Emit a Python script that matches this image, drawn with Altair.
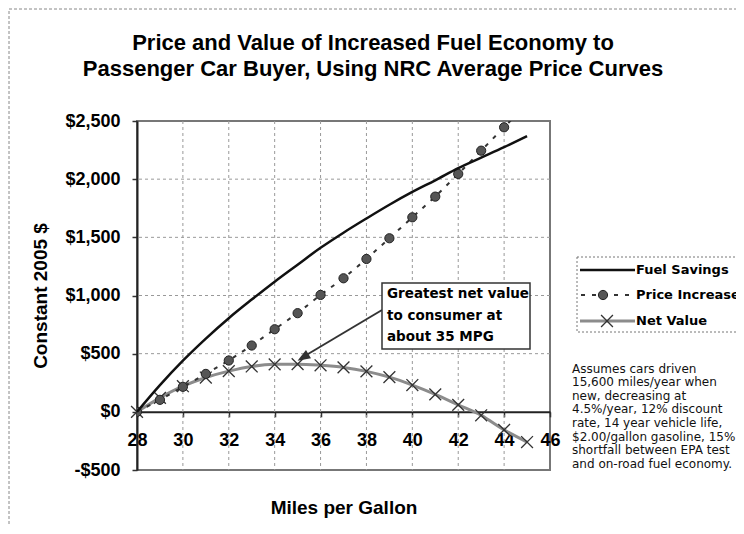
import altair as alt
import pandas as pd

# ---- data ----
mpg = list(range(28, 46))
fuel_savings = [0, 230, 440, 630, 805, 965, 1119, 1265, 1410, 1540, 1662, 1780, 1890, 1990, 2095, 2185, 2275, 2370]
price_increase = [0, 103, 215, 326, 441, 570, 710, 848, 1005, 1148, 1314, 1492, 1672, 1850, 2045, 2245, 2446, 2650]
net_value = [0, 120, 220, 295, 350, 390, 408, 410, 400, 382, 348, 298, 230, 150, 60, -30, -155, -260]

x_ticks = [28, 30, 32, 34, 36, 38, 40, 42, 44, 46]
y_ticks = [-500, 0, 500, 1000, 1500, 2000, 2500]
grid_x = [30, 32, 34, 36, 38, 40, 42, 44]
grid_y = [500, 1000, 1500, 2000]

series_names = ["Fuel Savings", "Price Increase", "Net Value"]

title_lines = ["Price and Value of Increased Fuel Economy to",
               "Passenger Car Buyer, Using NRC Average Price Curves"]
annot_lines = ["Greatest net value", "to consumer at", "about 35 MPG"]
note_lines = ["Assumes cars driven", "15,600 miles/year when", "new, decreasing at",
              "4.5%/year, 12% discount", "rate, 14 year vehicle life,",
              "$2.00/gallon gasoline, 15%", "shortfall between EPA test",
              "and on-road fuel economy."]

rows = []
for name, vals in zip(series_names, [fuel_savings, price_increase, net_value]):
    for m, v in zip(mpg, vals):
        rows.append({"series": name, "mpg": m, "value": v})
df = pd.DataFrame(rows)

AR = "Liberation Sans"
DJ = "DejaVu Sans"
W, H = 413, 349

xaxis = alt.Axis(values=x_ticks, format="d", grid=False, offset=-58.17,
                 labelFont=AR, labelFontSize=18, labelFontWeight="bold", labelColor="#000",
                 labelPadding=15, tickSize=5, tickColor="#333", tickWidth=1.5,
                 domainColor="#222", domainWidth=2, labelFlush=False,
                 title="Miles per Gallon", titleFont=AR, titleFontSize=19,
                 titleFontWeight="bold", titleColor="#000", titleBaseline="alphabetic",
                 titleY=101.6)
yaxis = alt.Axis(values=y_ticks, grid=False,
                 labelExpr="datum.value < 0 ? '-$' + format(-datum.value, ',') : '$' + format(datum.value, ',')",
                 labelFont=AR, labelFontSize=18, labelFontWeight="bold", labelColor="#000",
                 labelPadding=12, tickSize=5, tickColor="#333", tickWidth=1.5,
                 domainColor="#222", domainWidth=2,
                 title="Constant 2005 $", titleFont=AR, titleFontSize=19,
                 titleFontWeight="bold", titleColor="#000", titleBaseline="middle",
                 titleX=-97, titleY=174.5)

xs = alt.Scale(domain=[28, 46], nice=False, zero=False)
ys = alt.Scale(domain=[-500, 2500], nice=False, zero=False)
X = alt.X("mpg:Q", scale=xs, axis=xaxis)
Y = alt.Y("value:Q", scale=ys, axis=yaxis)

one = pd.DataFrame({"k": [0]})

# page frame (left and top edges visible)
frame = alt.Chart(one).mark_rect(fill="transparent", stroke="#888", strokeWidth=1,
                                 strokeDash=[3, 2]).encode(
    x=alt.value(-128), x2=alt.value(700), y=alt.value(-112), y2=alt.value(460))

vgrid = alt.Chart(pd.DataFrame({"mpg": grid_x})).mark_rule(
    color="#999", strokeWidth=1, strokeDash=[3, 3]).encode(x=X)
hgrid = alt.Chart(pd.DataFrame({"value": grid_y})).mark_rule(
    color="#999", strokeWidth=1, strokeDash=[3, 3]).encode(y=Y)

base = alt.Chart(df)
net_line = base.transform_filter(alt.datum.series == "Net Value").mark_line(
    color="#8c8c8c", strokeWidth=3, interpolate="monotone").encode(x=X, y=Y)
xpath = "M-1,-1L1,1M-1,1L1,-1"
net_pts = base.transform_filter(alt.datum.series == "Net Value").mark_point(
    shape=xpath, stroke="#333", strokeWidth=1.3, size=140, filled=False, opacity=1).encode(x=X, y=Y)
price_line = base.transform_filter(alt.datum.series == "Price Increase").mark_line(
    color="#333", strokeWidth=2, strokeDash=[4, 7], clip=True).encode(x=X, y=Y)
price_pts = base.transform_filter(alt.datum.series == "Price Increase").mark_point(
    filled=True, fill="#555", stroke="#222", strokeWidth=1, size=85, opacity=1, clip=True).encode(x=X, y=Y)
fuel_line = base.transform_filter(alt.datum.series == "Fuel Savings").mark_line(
    color="#111", strokeWidth=2.5, interpolate="monotone").encode(x=X, y=Y)

# annotation
ann_arrow = alt.Chart(one).mark_rule(color="#333", strokeWidth=2).encode(
    x=alt.value(245), x2=alt.value(166), y=alt.value(189), y2=alt.value(236))
ann_head = alt.Chart(one).mark_point(shape="M0,-1L0.65,0.7L-0.65,0.7Z", filled=True,
                                     fill="#333", stroke="#333", size=110, angle=239,
                                     opacity=1).encode(x=alt.value(167.5), y=alt.value(235.5))
ann_box = alt.Chart(one).mark_rect(fill="white", stroke="#333", strokeWidth=1.5).encode(
    x=alt.value(245), x2=alt.value(393), y=alt.value(162), y2=alt.value(228))
ann_text = alt.Chart(one).mark_text(text=annot_lines, font=DJ, fontSize=13.5, fontWeight="bold",
                                    align="left", baseline="alphabetic", lineHeight=21.4,
                                    color="#000").encode(x=alt.value(250), y=alt.value(177.2))

# legend
lg_box = alt.Chart(one).mark_rect(fill="white", stroke="#777", strokeWidth=1, strokeDash=[2, 2]).encode(
    x=alt.value(440), x2=alt.value(660), y=alt.value(136), y2=alt.value(211))
lg_fuel = alt.Chart(one).mark_rule(color="#111", strokeWidth=2.5).encode(
    x=alt.value(443), x2=alt.value(498), y=alt.value(149))
lg_price = alt.Chart(one).mark_rule(color="#333", strokeWidth=2, strokeDash=[4, 7]).encode(
    x=alt.value(444), x2=alt.value(498), y=alt.value(174))
lg_price_pt = alt.Chart(one).mark_point(filled=True, fill="#555", stroke="#222", strokeWidth=1,
                                        size=85, opacity=1).encode(x=alt.value(466), y=alt.value(174))
lg_net = alt.Chart(one).mark_rule(color="#8c8c8c", strokeWidth=3).encode(
    x=alt.value(443), x2=alt.value(498), y=alt.value(200))
lg_net_pt = alt.Chart(one).mark_point(shape=xpath, stroke="#333", strokeWidth=1.3, size=140,
                                      filled=False, opacity=1).encode(x=alt.value(470), y=alt.value(200))
lg_texts = [
    alt.Chart(one).mark_text(text=nm, font=DJ, fontSize=13, fontWeight="bold", align="left",
                             baseline="middle", color="#000").encode(x=alt.value(499), y=alt.value(yy))
    for nm, yy in zip(series_names, [149, 174, 200])
]

# note
note = alt.Chart(one).mark_text(text=note_lines, font=DJ, fontSize=12, align="left",
                                baseline="alphabetic", lineHeight=13.6, color="#111").encode(
    x=alt.value(435), y=alt.value(251.5))

# title
title = alt.Chart(one).mark_text(text=title_lines, font=AR, fontSize=22, fontWeight="bold",
                                 align="center", baseline="alphabetic", lineHeight=26.6,
                                 color="#000").encode(x=alt.value(236), y=alt.value(-71.4))

chart = alt.layer(
    frame, vgrid, hgrid, net_line, net_pts, price_line, price_pts, fuel_line,
    ann_arrow, ann_head, ann_box, ann_text,
    lg_box, lg_fuel, lg_price, lg_price_pt, lg_net, lg_net_pt, *lg_texts,
    note, title
).properties(
    width=W, height=H,
    padding={"left": 129, "top": 113, "right": 186, "bottom": 56},
    autosize=alt.AutoSizeParams(type="none"),
    background="white",
).configure_view(stroke="#777", strokeWidth=2)

chart.save("out.html", embed_options={"renderer": "svg", "actions": False})
